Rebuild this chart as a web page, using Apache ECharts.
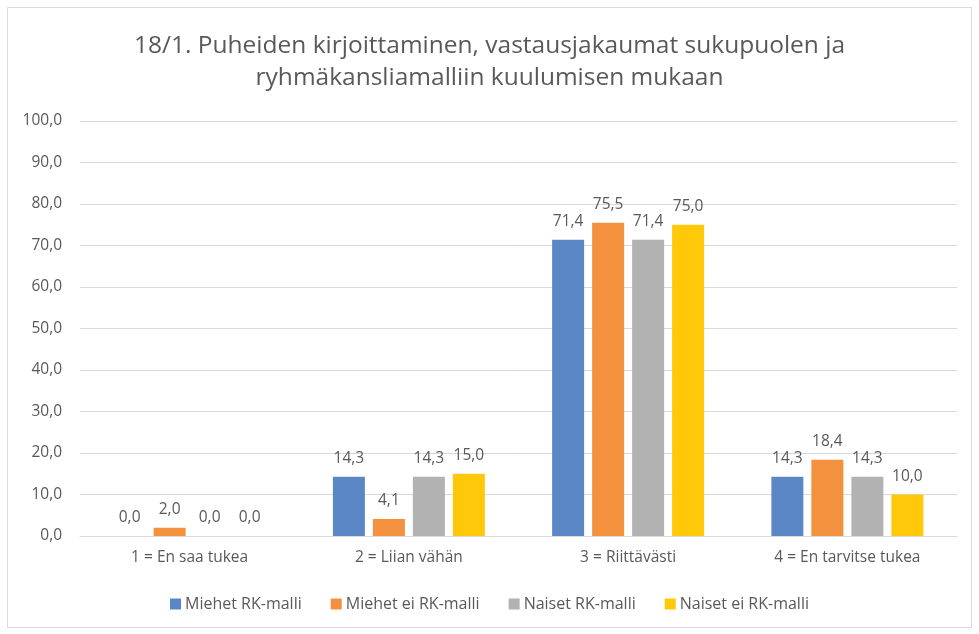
<!DOCTYPE html>
<html>
<head>
<meta charset="utf-8">
<script src="https://cdn.jsdelivr.net/npm/echarts@6/dist/echarts.min.js"></script>
<style>
  html, body { margin: 0; padding: 0; background: #fff; }
  #chart { width: 979px; height: 634px; }
</style>
</head>
<body>
<div id="chart"></div>
<script>
const categories = ['1 = En saa tukea', '2 = Liian vähän', '3 = Riittävästi', '4 = En tarvitse tukea'];
const seriesNames = ['Miehet RK-malli', 'Miehet ei RK-malli', 'Naiset RK-malli', 'Naiset ei RK-malli'];
const miehetRk = [0.0, 14.3, 71.4, 14.3];
const miehetEiRk = [2.0, 4.1, 75.5, 18.4];
const naisetRk = [0.0, 14.3, 71.4, 14.3];
const naisetEiRk = [0.0, 15.0, 75.0, 10.0];
const colors = ['#5B87C6', '#F3913F', '#B2B2B2', '#FFC90A'];

const font = '"Open Sans", sans-serif';
const values = [miehetRk, miehetEiRk, naisetRk, naisetEiRk];

let series = [];
seriesNames.forEach((name, i) => {
  series.push({
    name: name,
    type: 'bar',
    data: values[i],
    barWidth: 32,
    barGap: '25%',
    itemStyle: { color: colors[i] },
    label: {
      show: true,
      position: 'top',
      distance: 10,
      color: '#595959',
      fontSize: 15.5,
      fontFamily: font,
      formatter: p => p.value.toFixed(1).replace('.', ',')
    }
  });
});

const option = {
  backgroundColor: '#fff',
  animation: false,
  title: {
    text: '18/1. Puheiden kirjoittaminen, vastausjakaumat sukupuolen ja\nryhmäkansliamalliin kuulumisen mukaan',
    left: 'center',
    top: 25,
    textStyle: {
      color: '#595959',
      fontSize: 24.5,
      fontWeight: 'normal',
      fontFamily: font,
      lineHeight: 32
    }
  },
  legend: {
    bottom: 17,
    left: 'center',
    itemWidth: 11,
    itemHeight: 11,
    itemGap: 29,
    icon: 'rect',
    data: seriesNames,
    textStyle: { color: '#595959', fontSize: 16, fontFamily: font, padding: [0, 0, 0, -1] }
  },
  grid: {
    left: 80,
    right: 22,
    top: 121,
    bottom: 98
  },
  xAxis: {
    type: 'category',
    data: categories,
    axisLine: { lineStyle: { color: '#D9D9D9' } },
    axisTick: { show: false },
    axisLabel: { color: '#595959', fontSize: 15.5, fontFamily: font, margin: 14 }
  },
  yAxis: {
    type: 'value',
    min: 0,
    max: 100,
    interval: 10,
    axisLine: { show: false },
    axisTick: { show: false },
    splitLine: { lineStyle: { color: '#D9D9D9' } },
    axisLabel: {
      color: '#595959',
      fontSize: 15.5,
      fontFamily: font,
      margin: 18,
      formatter: v => v.toFixed(1).replace('.', ',')
    }
  },
  series: series,
  graphic: [{
    type: 'rect',
    shape: { x: 7.5, y: 7.5, width: 964, height: 620 },
    style: { fill: 'none', stroke: '#D9D9D9', lineWidth: 1 },
    silent: true
  }]
};

const myChart = echarts.init(document.getElementById('chart'));
myChart.setOption(option);
</script>
</body>
</html>
